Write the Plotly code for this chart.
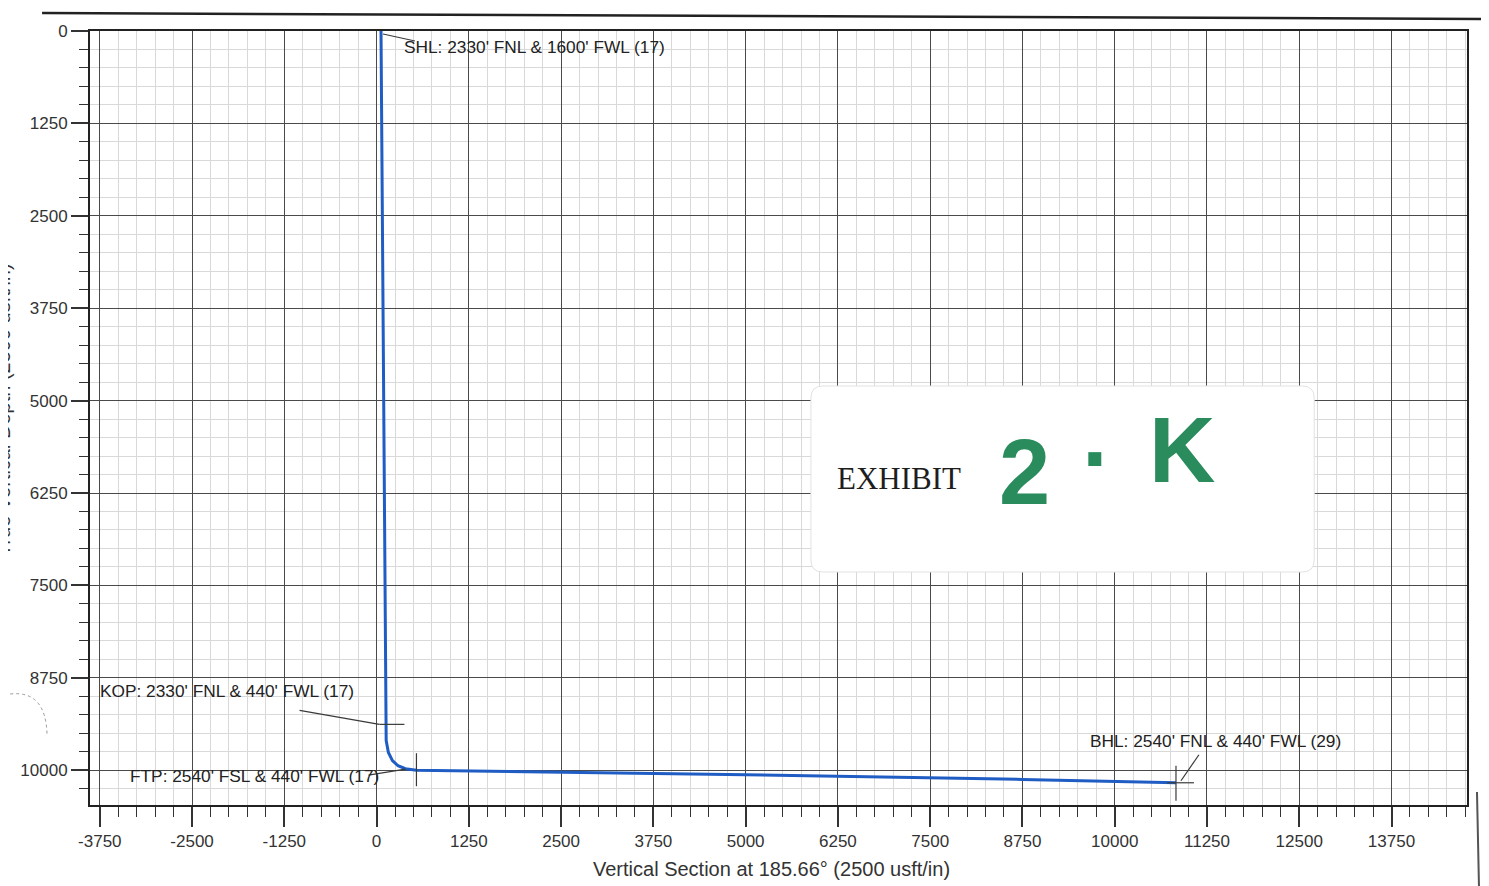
import plotly.graph_objects as go

# ---------------- data ----------------
# well path (vertical section vs true vertical depth, usft)
well_vs = [60, 120, 130, 160, 215, 290, 390, 540, 1250, 5000, 8750, 10000, 10830]
well_tvd = [0, 9380, 9600, 9760, 9870, 9940, 9980, 10000, 10010, 10060, 10125, 10150, 10170]

marker_names = ["SHL", "KOP", "FTP", "BHL"]
marker_labels = [
    "SHL: 2330' FNL & 1600' FWL (17)",
    "KOP: 2330' FNL & 440' FWL (17)",
    "FTP: 2540' FSL & 440' FWL (17)",
    "BHL: 2540' FNL & 440' FWL (29)",
]
marker_vs = [60, 120, 540, 10830]
marker_tvd = [0, 9380, 10000, 10170]

x_tick_vals = [-3750, -2500, -1250, 0, 1250, 2500, 3750, 5000, 6250, 7500, 8750,
               10000, 11250, 12500, 13750]
x_tick_text = ["-3750", "-2500", "-1250", "0", "1250", "2500", "3750", "5000", "6250",
               "7500", "8750", "10000", "11250", "12500", "13750"]
y_tick_vals = [0, 1250, 2500, 3750, 5000, 6250, 7500, 8750, 10000]
y_tick_text = ["0", "1250", "2500", "3750", "5000", "6250", "7500", "8750", "10000"]

x_title = "Vertical Section at 185.66° (2500 usft/in)"
y_title = "True Vertical Depth (2500 usft/in)"

# ---------------- layout geometry (page pixels) ----------------
OFF = 8                                  # default page margin of the html body
PW, PH = 1489, 886
W, H = PW - OFF, PH - OFF
L, R, T, B = 88, 1467, 31, 805          # plot area in page pixels
X0 = 375                                # page pixel of VS = 0
S = 1250 / 92.4                          # usft per pixel (both axes)


def vs_at(px):
    return (px - X0) * S


def tvd_at(py):
    return (py - T) * S


def pxp(px):
    return (px - L) / (R - L)


def pyp(py):
    return (B - py) / (B - T)


x_range = [vs_at(L), vs_at(R)]
y_range = [tvd_at(B), tvd_at(T)]

font_main = "Liberation Sans, Arial, sans-serif"

fig = go.Figure()
fig.add_trace(go.Scatter(
    x=well_vs, y=well_tvd, mode="lines",
    line=dict(color="#1f5cc4", width=3),
    showlegend=False, hoverinfo="skip",
))

shapes = []
annotations = []

# leaders and ticks for markers, in pixel offsets from each marker point
leaders = {
    "SHL": [((2, 3), (34, 10))],
    "KOP": [((-86, -14), (-6, 0)), ((-6, 0), (19, 0))],
    "FTP": [((-48, 5), (-11, -1)), ((0, -17), (0, 16))],
    "BHL": [((23, -28), (5, -2)), ((0, -17), (0, 18)), ((-9, 0), (18, 0))],
}
label_px = {"SHL": (400, 47), "KOP": (96, 691), "FTP": (126, 776), "BHL": (1087, 741)}

for name, text, mx, my in zip(marker_names, marker_labels, marker_vs, marker_tvd):
    for (a, b) in leaders[name]:
        shapes.append(dict(
            type="line", xref="x", yref="y",
            x0=mx + a[0] * S, y0=my + a[1] * S,
            x1=mx + b[0] * S, y1=my + b[1] * S,
            line=dict(color="#3a3a3a", width=1.2), layer="above",
        ))
    lx, ly = label_px[name]
    annotations.append(dict(
        x=vs_at(lx), y=tvd_at(ly), xref="x", yref="y", text=text,
        showarrow=False, xanchor="left", yanchor="middle",
        font=dict(family=font_main, size=17.3, color="#222"),
    ))

# exhibit card
bx0, bx1, by0, by1, r = 810, 1314, 386, 572, 12
pts = lambda px, py: f"{vs_at(px):.1f},{tvd_at(py):.1f}"
path = (f"M {pts(bx0 + r, by0)} L {pts(bx1 - r, by0)} Q {pts(bx1, by0)} {pts(bx1, by0 + r)} "
        f"L {pts(bx1, by1 - r)} Q {pts(bx1, by1)} {pts(bx1 - r, by1)} "
        f"L {pts(bx0 + r, by1)} Q {pts(bx0, by1)} {pts(bx0, by1 - r)} "
        f"L {pts(bx0, by0 + r)} Q {pts(bx0, by0)} {pts(bx0 + r, by0)} Z")
shapes.append(dict(type="path", xref="x", yref="y", path=path,
                   fillcolor="white", line=dict(color="#e2e2e2", width=1), layer="above"))

annotations.append(dict(x=vs_at(898), y=tvd_at(478), xref="x", yref="y", text="EXHIBIT",
                        showarrow=False, xanchor="center", yanchor="middle",
                        font=dict(family="Liberation Serif, Times New Roman, serif", size=31, color="#1e1e1e")))
green = "#2a8c5c"
for ch, cx, cy, sz in [("2", 1024, 472, 92), ("·", 1097, 458, 92), ("K", 1182, 450, 92)]:
    annotations.append(dict(x=vs_at(cx), y=tvd_at(cy), xref="x", yref="y", text=f"<b>{ch}</b>",
                            showarrow=False, xanchor="center", yanchor="middle",
                            font=dict(family=font_main, size=sz, color=green)))

# y title, cut off at the page edge like the scan
annotations.append(dict(x=pxp(1), y=pyp(410), xref="paper", yref="paper", text=y_title,
                        showarrow=False, textangle=-90, xanchor="center", yanchor="middle",
                        font=dict(family=font_main, size=20, color="#333")))
annotations.append(dict(x=pxp(770), y=pyp(869), xref="paper", yref="paper", text=x_title,
                        showarrow=False, xanchor="center", yanchor="middle",
                        font=dict(family=font_main, size=20, color="#333")))

# page edges and punch-hole mark
shapes.append(dict(type="line", xref="paper", yref="paper",
                   x0=pxp(40), y0=pyp(13), x1=pxp(1489), y1=pyp(19),
                   line=dict(color="#222", width=2.5)))
shapes.append(dict(type="line", xref="paper", yref="paper",
                   x0=pxp(1477), y0=pyp(792), x1=pxp(1479), y1=pyp(886),
                   line=dict(color="#555", width=2)))
shapes.append(dict(type="path", xref="paper", yref="paper",
                   path=f"M {pxp(8):.4f},{pyp(694):.4f} Q {pxp(44):.4f},{pyp(690):.4f} {pxp(45):.4f},{pyp(735):.4f}",
                   line=dict(color="#9a9a9a", width=1, dash="dot")))

axis_common = dict(
    showline=True, linecolor="#222", linewidth=2, mirror=True,
    showgrid=True, gridcolor="#4a4a4a", gridwidth=1.2,
    ticks="outside", tickcolor="#333", tickwidth=1.5,
    tickfont=dict(family=font_main, size=17, color="#333"),
    zeroline=False, fixedrange=True,
)

fig.update_layout(
    width=W, height=H,
    margin=dict(l=L - OFF, r=PW - R, t=T - OFF, b=PH - B),
    paper_bgcolor="white", plot_bgcolor="white",
    showlegend=False,
    xaxis=dict(range=x_range, tickmode="array", tickvals=x_tick_vals, ticktext=x_tick_text,
               ticklen=20,
               minor=dict(tickmode="linear", tick0=0, dtick=250, ticks="outside", ticklen=10,
                          tickcolor="#333", tickwidth=1.3, showgrid=True,
                          gridcolor="#d9d9d9", gridwidth=1),
               **axis_common),
    yaxis=dict(range=y_range, tickmode="array", tickvals=y_tick_vals, ticktext=y_tick_text,
               ticklen=17,
               minor=dict(tickmode="linear", tick0=0, dtick=250, ticks="outside", ticklen=9,
                          tickcolor="#333", tickwidth=1.3, showgrid=True,
                          gridcolor="#d9d9d9", gridwidth=1),
               **axis_common),
    shapes=shapes, annotations=annotations,
)

fig.write_html("out.html")
